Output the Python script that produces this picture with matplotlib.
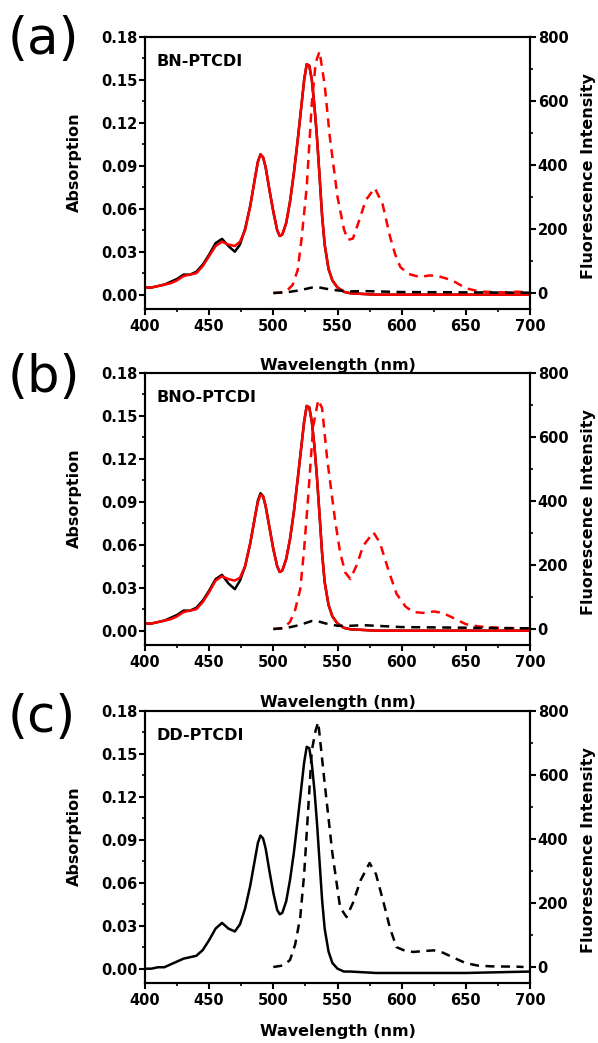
import matplotlib
matplotlib.use("Agg")
import matplotlib.pyplot as plt
from matplotlib.ticker import MultipleLocator, FormatStrFormatter

plt.rcParams['font.family'] = ['DejaVu Sans']

# ---------------------------
# Absorption data (nm, abs)
# ---------------------------
wl_abs = [400, 405, 410, 415, 420, 425, 430, 435, 440, 445, 450, 455, 460,
          465, 470, 474, 478, 482, 486, 488, 490, 492, 494, 497, 500, 503,
          505, 507, 510, 513, 516, 519, 522, 524, 526, 528, 530, 532, 534,
          536, 538, 540, 543, 546, 550, 555, 560, 580, 600, 650, 700]

abs_a_black = [0.005, 0.005, 0.006, 0.007, 0.009, 0.011, 0.014, 0.014, 0.016,
               0.021, 0.028, 0.036, 0.039, 0.034, 0.030, 0.035, 0.046, 0.062,
               0.083, 0.093, 0.098, 0.096, 0.089, 0.073, 0.058, 0.045, 0.041,
               0.042, 0.050, 0.065, 0.085, 0.108, 0.133, 0.150, 0.161, 0.160,
               0.150, 0.132, 0.110, 0.083, 0.055, 0.035, 0.018, 0.010, 0.005,
               0.002, 0.001, 0.000, 0.000, 0.000, 0.000]
abs_a_red = [0.005, 0.005, 0.006, 0.007, 0.008, 0.010, 0.013, 0.014, 0.015,
             0.020, 0.027, 0.034, 0.037, 0.035, 0.034, 0.037, 0.045, 0.062,
             0.083, 0.093, 0.098, 0.096, 0.089, 0.073, 0.058, 0.045, 0.041,
             0.042, 0.050, 0.065, 0.085, 0.108, 0.133, 0.150, 0.161, 0.160,
             0.150, 0.132, 0.110, 0.083, 0.055, 0.035, 0.018, 0.010, 0.005,
             0.002, 0.001, 0.000, 0.000, 0.000, 0.000]

abs_b_black = [0.005, 0.005, 0.006, 0.007, 0.009, 0.011, 0.014, 0.014, 0.016,
               0.021, 0.028, 0.036, 0.039, 0.033, 0.029, 0.035, 0.045, 0.061,
               0.081, 0.091, 0.096, 0.094, 0.087, 0.072, 0.057, 0.045, 0.041,
               0.042, 0.050, 0.064, 0.083, 0.106, 0.130, 0.146, 0.157, 0.156,
               0.146, 0.129, 0.107, 0.081, 0.054, 0.034, 0.018, 0.010, 0.005,
               0.002, 0.001, 0.000, 0.000, 0.000, 0.000]
abs_b_red = [0.005, 0.005, 0.006, 0.007, 0.008, 0.010, 0.013, 0.014, 0.015,
             0.020, 0.027, 0.035, 0.038, 0.036, 0.035, 0.037, 0.045, 0.061,
             0.081, 0.090, 0.095, 0.094, 0.087, 0.072, 0.057, 0.045, 0.041,
             0.042, 0.050, 0.064, 0.083, 0.106, 0.130, 0.146, 0.157, 0.156,
             0.146, 0.129, 0.107, 0.081, 0.054, 0.034, 0.018, 0.010, 0.005,
             0.002, 0.001, 0.000, 0.000, 0.000, 0.000]

abs_c = [0.000, 0.000, 0.001, 0.001, 0.003, 0.005, 0.007, 0.008, 0.009,
         0.013, 0.020, 0.028, 0.032, 0.028, 0.026, 0.031, 0.042, 0.058,
         0.078, 0.088, 0.093, 0.091, 0.084, 0.068, 0.053, 0.041, 0.038,
         0.039, 0.047, 0.062, 0.081, 0.104, 0.128, 0.144, 0.155, 0.154,
         0.143, 0.125, 0.102, 0.075, 0.048, 0.028, 0.012, 0.004, 0.000,
         -0.002, -0.002, -0.003, -0.003, -0.003, -0.002]

# ---------------------------
# Fluorescence data
# ---------------------------
wl_fl_a = [500, 505, 510, 515, 519, 522, 526, 530, 533, 536, 540, 544, 550,
           555, 558, 562, 567, 572, 579, 585, 591, 595, 599, 605, 614, 622,
           628, 635, 640, 650, 660, 670, 680, 690, 700]
fl_a_red = [0, 1, 5, 25, 72, 170, 331, 594, 720, 755, 650, 488, 300, 200,
            166, 170, 228, 290, 328, 280, 175, 120, 81, 60, 50, 55, 53, 45,
            38, 15, 5, 3, 2, 4, 2]
wl_fl_a_k = [500, 510, 520, 530, 535, 540, 550, 560, 570, 580, 600, 650, 700]
fl_a_black = [0, 2, 8, 17, 18, 14, 8, 5, 6, 5, 3, 2, 1]

wl_fl_b = [500, 508, 513, 517, 521, 524, 527, 531, 535, 538, 542, 548, 552,
           556, 560, 565, 570, 578, 583, 590, 596, 603, 609, 618, 625, 632,
           640, 650, 660, 670, 680, 700]
fl_b_red = [0, 3, 22, 60, 125, 250, 405, 632, 716, 690, 530, 343, 240, 177,
            156, 200, 260, 302, 270, 180, 110, 70, 53, 50, 55, 50, 35, 15, 8,
            5, 3, 2]
wl_fl_b_k = [500, 510, 520, 530, 535, 540, 550, 560, 570, 580, 600, 650, 700]
fl_b_black = [0, 3, 12, 25, 24, 18, 10, 10, 12, 10, 6, 4, 2]

wl_fl_c = [500, 508, 513, 517, 521, 524, 526, 530, 533, 535, 540, 546, 552,
           557, 562, 568, 575, 580, 586, 591, 596, 603, 609, 618, 625, 632,
           640, 650, 660, 670, 690, 695]
fl_c = [0, 5, 22, 70, 156, 290, 418, 677, 740, 765, 574, 356, 187, 156, 200,
        271, 325, 290, 200, 120, 62, 50, 47, 50, 52, 45, 30, 12, 4, 2, 1, 0]

names = ["BN-PTCDI", "BNO-PTCDI", "DD-PTCDI"]
panel_tags = ["(a)", "(b)", "(c)"]

fig = plt.figure(figsize=(5.98, 10.43), dpi=100)

left, width, height = 145 / 598, 385 / 598, 272 / 1043
bottoms = [1 - 309 / 1043, 1 - 645 / 1043, 1 - 983 / 1043]
tag_y = [40, 378, 718]
xlab_y = [-0.18, -0.185, -0.152]

dash = (0, (3.6, 2.6))

for i in range(3):
    ax = fig.add_axes([left, bottoms[i], width, height])
    ax2 = ax.twinx()

    if i == 0:
        ax.plot(wl_abs, abs_a_black, color="black", lw=1.8)
        ax.plot(wl_abs, abs_a_red, color="red", lw=1.8)
        ax2.plot(wl_fl_a, fl_a_red, color="red", lw=1.8, ls=dash)
        ax2.plot(wl_fl_a_k, fl_a_black, color="black", lw=1.8, ls=dash)
    elif i == 1:
        ax.plot(wl_abs, abs_b_black, color="black", lw=1.8)
        ax.plot(wl_abs, abs_b_red, color="red", lw=1.8)
        ax2.plot(wl_fl_b, fl_b_red, color="red", lw=1.8, ls=dash)
        ax2.plot(wl_fl_b_k, fl_b_black, color="black", lw=1.8, ls=dash)
    else:
        ax.plot(wl_abs, abs_c, color="black", lw=1.8)
        ax2.plot(wl_fl_c, fl_c, color="black", lw=1.8, ls=dash)

    ax.set_xlim(400, 700)
    ax.set_ylim(-0.01, 0.18)
    ax2.set_ylim(-50, 800)

    ax.xaxis.set_major_locator(MultipleLocator(50))
    ax.xaxis.set_minor_locator(MultipleLocator(25))
    ax.yaxis.set_major_locator(MultipleLocator(0.03))
    ax.yaxis.set_minor_locator(MultipleLocator(0.015))
    ax.yaxis.set_major_formatter(FormatStrFormatter("%.2f"))
    ax2.yaxis.set_major_locator(MultipleLocator(200))
    ax2.yaxis.set_minor_locator(MultipleLocator(100))

    for a in (ax, ax2):
        for s in a.spines.values():
            s.set_linewidth(1.5)
        a.tick_params(which="major", direction="out", length=4, width=1.5,
                      labelsize=10.5, pad=1.5)
        a.tick_params(which="minor", direction="out", length=2.5, width=1.2)
        for lab in a.get_xticklabels() + a.get_yticklabels():
            lab.set_fontweight("bold")
    ax.tick_params(axis="x", pad=3)

    ax.set_xlabel("Wavelength (nm)", fontsize=11.5, fontweight="bold")
    ax.xaxis.set_label_coords(0.5, xlab_y[i])
    ax.set_ylabel("Absorption", fontsize=11.5, fontweight="bold")
    ax.yaxis.set_label_coords(-0.163, 0.54)
    ax2.set_ylabel("Fluorescence Intensity", fontsize=11.5, fontweight="bold")
    ax2.yaxis.set_label_coords(1.133, 0.49)

    ax.text(0.03, 0.91, names[i], transform=ax.transAxes, fontsize=11.5,
            fontweight="bold", va="center", ha="left")
    fig.text(8 / 598, 1 - tag_y[i] / 1043, panel_tags[i], fontsize=37,
             va="center", ha="left")

fig.savefig("out.png", dpi=100)
